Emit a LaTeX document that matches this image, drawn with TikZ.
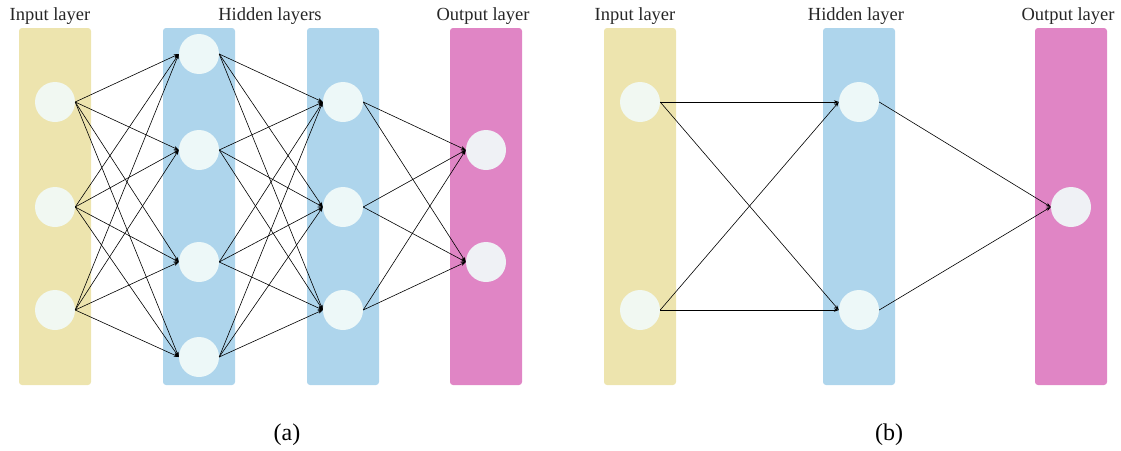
\documentclass[tikz,border=0pt]{standalone}
\usepackage{fontspec}
\setmainfont{Liberation Serif}
\usetikzlibrary{arrows.meta}
\definecolor{inbar}{HTML}{EDE4AE}
\definecolor{hidbar}{HTML}{AED5EC}
\definecolor{outbar}{HTML}{E085C5}
\definecolor{infill}{HTML}{F1F8F2}
\definecolor{hidfill}{HTML}{EDF8F8}
\definecolor{outfill}{HTML}{EFF1F5}
\begin{document}
\begin{tikzpicture}[x=1pt,y=-1pt,
  bar/.style={rounded corners=3pt},
  neuron/.style={circle,minimum size=40pt,inner sep=0pt},
  inn/.style={neuron,fill=infill},
  hid/.style={neuron,fill=hidfill},
  outn/.style={neuron,fill=outfill},
  lab/.style={font=\fontsize{18.5}{20}\selectfont,text=black!85},
  captext/.style={font=\fontsize{24}{26}\selectfont},
  link/.style={-{Stealth[length=5pt,width=3.6pt]},line width=0.6pt}]
\useasboundingbox (0,0) rectangle (1121,450);

% ---- (a) deep network ----
\fill[inbar,bar]  (19,28)  rectangle (91,385);
\fill[hidbar,bar] (163,28) rectangle (235,385);
\fill[hidbar,bar] (307,28) rectangle (379,385);
\fill[outbar,bar] (450,28) rectangle (522,385);

\node[lab] at (50,16) {Input layer};
\node[lab] at (270,16) {Hidden layers};
\node[lab] at (483,16) {Output layer};

\foreach \i/\y in {1/102,2/207,3/310} \node[inn] (a\i) at (55,\y) {};
\foreach \i/\y in {1/54,2/150,3/262,4/357} \node[hid] (b\i) at (199,\y) {};
\foreach \i/\y in {1/102,2/207,3/310} \node[hid] (c\i) at (343,\y) {};
\foreach \i/\y in {1/150,2/262} \node[outn] (d\i) at (486,\y) {};

\foreach \s in {1,2,3} \foreach \t in {1,2,3,4}
  \draw[link] (a\s.east) -- (b\t.west);
\foreach \s in {1,2,3,4} \foreach \t in {1,2,3}
  \draw[link] (b\s.east) -- (c\t.west);
\foreach \s in {1,2,3} \foreach \t in {1,2}
  \draw[link] (c\s.east) -- (d\t.west);

\node[captext] (capa) at (287,435) {(a)};

% ---- (b) shallow network ----
\fill[inbar,bar]  (604,28)  rectangle (676,385);
\fill[hidbar,bar] (823,28)  rectangle (895,385);
\fill[outbar,bar] (1035,28) rectangle (1107,385);

\node[lab] at (635,16) {Input layer};
\node[lab] at (856,16) {Hidden layer};
\node[lab] at (1068,16) {Output layer};

\foreach \i/\y in {1/102,2/310} \node[inn] (p\i) at (640,\y) {};
\foreach \i/\y in {1/102,2/310} \node[hid] (q\i) at (859,\y) {};
\node[outn] (r1) at (1071,207) {};

\foreach \s in {1,2} \foreach \t in {1,2}
  \draw[link] (p\s.east) -- (q\t.west);
\foreach \s in {1,2}
  \draw[link] (q\s.east) -- (r1.west);

\node[captext] (capb) at (889,435) {(b)};
\end{tikzpicture}
\end{document}
